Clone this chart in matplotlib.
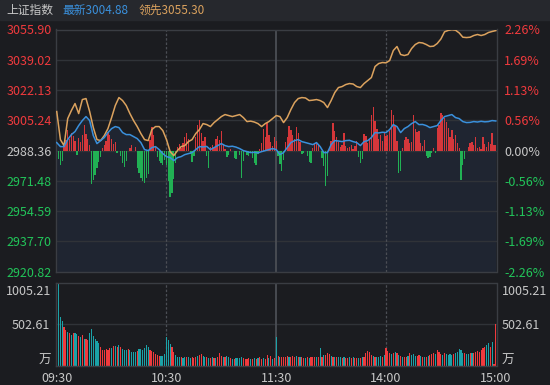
import numpy as np
import matplotlib
matplotlib.use("Agg")
import matplotlib.pyplot as plt
from matplotlib.patches import Rectangle

plt.rcParams['font.family'] = ['Noto Sans CJK SC', 'DejaVu Sans']

# ── data ──
PREV_CLOSE = 2988.36
PRICE_TICKS = [2920.82, 2937.70, 2954.59, 2971.48, 2988.36, 3005.24, 3022.13, 3039.02, 3055.90]
PCT_LABELS = ['-2.26%', '-1.69%', '-1.13%', '-0.56%', '0.00%', '0.56%', '1.13%', '1.69%', '2.26%']
TIME_POS = [0, 60, 120, 180, 240]
TIME_LABELS = ['09:30', '10:30', '11:30', '14:00', '15:00']
VOL_MID, VOL_MAX = 502.61, 1005.21

# index (最新) and leading index (领先), every 2 minutes
INDEX = [2992.83, 2990.59, 2990.59, 2994.50, 2997.29, 2998.97, 3002.32, 3005.11, 3007.34, 3005.11,
         2996.73, 2992.27, 2993.94, 2995.62, 2998.41, 3000.64, 3001.76, 3001.20, 2998.41, 2997.29,
         2997.29, 2996.17, 2995.06, 2992.83, 2988.92, 2988.36, 2990.03, 2990.59, 2988.92, 2986.69,
         2985.01, 2984.45, 2982.78, 2984.45, 2985.01, 2986.13, 2986.69, 2987.24, 2988.92, 2990.59,
         2990.40, 2990.70, 2988.92, 2990.03, 2991.15, 2992.27, 2991.15, 2990.59, 2990.80, 2990.30,
         2989.48, 2988.36, 2987.80, 2987.24, 2987.40, 2987.10, 2987.80, 2988.36, 2988.92, 2989.48,
         2988.92, 2986.13, 2987.24, 2990.03, 2992.83, 2993.94, 2994.50, 2993.38, 2992.83, 2992.27,
         2991.71, 2992.83, 2990.59, 2987.24, 2987.24, 2991.71, 2993.94, 2993.70, 2993.38, 2993.94,
         2994.10, 2993.38, 2992.83, 2991.15, 2993.38, 2993.94, 2995.62, 2998.41, 2998.20, 2998.60,
         2998.41, 3000.08, 3002.87, 3001.76, 2998.41, 3000.64, 3001.76, 3003.43, 3004.55, 3002.87,
         3002.95, 3002.32, 3001.20, 3001.76, 3002.32, 3005.11, 3007.34, 3007.90, 3008.46, 3006.78,
         3006.22, 3004.55, 3003.99, 3004.10, 3004.55, 3004.30, 3004.70, 3004.40, 3004.55, 3005.11,
         3004.88]
LEADING = [3010.13, 2994.50, 2991.15, 3006.22, 3010.69, 3014.60, 3009.01, 3016.83, 3017.39, 3010.13,
           3001.20, 2994.50, 2993.94, 2996.73, 3000.64, 3006.78, 3013.48, 3017.94, 3016.27, 3013.48,
           3009.01, 3005.11, 3001.76, 2997.85, 2994.50, 2993.94, 3000.08, 3001.76, 3001.76, 2999.52,
           2994.50, 2987.80, 2985.57, 2988.36, 2990.59, 2991.15, 2993.38, 2994.50, 2997.85, 3000.08,
           3003.43, 3002.87, 3001.76, 3003.99, 3005.66, 3007.34, 3008.46, 3007.90, 3007.34, 3007.90,
           3008.46, 3006.78, 3004.55, 3004.80, 3004.30, 3003.43, 3001.76, 3003.43, 3004.55, 3006.22,
           3007.90, 3007.34, 3003.99, 3006.78, 3011.25, 3015.15, 3017.39, 3017.94, 3017.70, 3016.27,
           3016.50, 3016.83, 3016.27, 3015.15, 3012.36, 3016.27, 3020.74, 3023.53, 3024.08, 3025.20,
           3025.76, 3025.50, 3024.08, 3023.53, 3025.76, 3027.43, 3029.11, 3035.25, 3036.92, 3037.48,
           3037.30, 3038.60, 3044.18, 3046.41, 3041.95, 3041.39, 3041.95, 3045.30, 3047.53, 3048.65,
           3048.40, 3047.53, 3046.41, 3046.60, 3048.09, 3050.60, 3054.60, 3055.40, 3055.80, 3055.50,
           3054.00, 3051.60, 3051.40, 3051.60, 3052.55, 3053.11, 3052.55, 3053.11, 3054.23, 3054.79,
           3055.30]

# red/green strength bars, one per minute (own scale)
STRENGTH = [0, -8, -14, -10, 6, 11, 21, 12, 18, 15,
            10, -4, 13, 9, 16, 26, 17, 12, 6, -33,
            -29, -24, -17, -11, -6, 3, 6, 10, 19, 16,
            12, 7, 9, -2, 0, -5, -12, -16, -10, 0,
            3, 6, 0, 4, -17, -22, -27, -30, -32, -27,
            -23, 11, 24, 16, 5, -6, -10, -12, -14, -9,
            -14, -30, -46, -42, -28, -12, 4, 7, 3, 8,
            14, 18, 12, -3, -11, -5, 14, 26, 31, 18,
            10, 14, -5, -17, 4, 6, 3, 12, 15, 11,
            20, 7, 2, -6, -4, 2, 0, -7, -8, 0,
            -4, -27, -10, 0, -4, -5, -2, -7, -12, -14,
            -3, 2, 8, 22, 14, 28, 16, 9, 5, 14,
            10, -5, -13, -20, -9, 9, 14, 25, 21, 16,
            12, 24, 18, 9, -3, -2, 0, -5, -11, -12,
            3, 7, 8, 6, 0, -7, -15, -35, -25, 3,
            10, 28, 20, 14, 9, 4, 6, 18, 5, 3,
            4, 6, 2, 5, 10, -6, -12, -8, 17, 15,
            8, 12, 36, 44, 30, 22, 12, 16, 10, 18,
            15, 16, 20, 41, 36, 26, 10, -22, -20, 3,
            11, 14, 12, 8, 9, 36, 22, 19, 20, 8,
            5, 11, -5, -7, -6, -2, 3, -2, 23, 26,
            38, 36, 33, 29, 23, 14, 21, 12, 16, 8,
            3, -29, -14, -8, 0, 4, 8, 9, 6, 14,
            3, 4, 2, 14, 7, 4, 9, 7, 18, 6, 6]

# volume per minute (万) and direction: n = auction, u = up, d = down
VOLUME = [351, 1005, 593, 545, 472, 436, 411, 399, 375, 399,
          399, 387, 363, 351, 375, 327, 327, 315, 399, 448,
          363, 327, 303, 278, 230, 194, 194, 206, 194, 218,
          218, 242, 242, 230, 254, 230, 206, 194, 194, 206,
          194, 169, 169, 169, 182, 206, 206, 194, 218, 254,
          230, 194, 182, 169, 145, 133, 121, 121, 121, 145,
          351, 315, 266, 230, 169, 133, 109, 109, 109, 97,
          109, 109, 109, 97, 109, 97, 109, 121, 133, 145,
          121, 109, 109, 97, 97, 109, 97, 97, 109, 157,
          121, 109, 109, 121, 109, 97, 85, 85, 97, 97,
          97, 109, 97, 85, 85, 97, 85, 85, 97, 85,
          97, 109, 85, 97, 85, 133, 97, 121, 85, 97,
          351, 121, 109, 109, 109, 109, 121, 109, 109, 121,
          109, 121, 109, 109, 109, 97, 97, 109, 97, 109,
          109, 109, 109, 109, 218, 109, 133, 133, 157, 145,
          121, 109, 109, 109, 109, 109, 97, 109, 97, 97,
          109, 97, 109, 97, 97, 97, 97, 109, 109, 157,
          182, 169, 133, 121, 109, 109, 109, 121, 109, 133,
          218, 182, 157, 145, 157, 169, 157, 133, 121, 109,
          109, 109, 121, 157, 133, 145, 121, 121, 133, 121,
          109, 109, 109, 121, 133, 145, 157, 145, 194, 169,
          145, 133, 157, 145, 133, 145, 133, 145, 157, 169,
          206, 194, 157, 157, 145, 145, 157, 157, 157, 169,
          182, 169, 194, 218, 230, 254, 278, 230, 290, 24,
          505]
VOL_DIR = ("nddduududu" "ddududuudd" "dddduuuuuu" "dudududddu"
           "dddduddddd" "duuuuuuddd" "ddduudddud" "dudduuuduu"
           "ddudududuu" "ududdududd" "dduuuududu" "duuduududu"
           "duduuuuduu" "ududuududu" "uudududuuu" "dududduduu"
           "duduududuu" "uuududddud" "uuudududud" "uududdduud"
           "ududuuuduu" "ududdddudd" "dddudduduu" "uuuuuddudu" "u")

# ── styling ──
BG = "#1b1c20"
HEADER = "#26282d"
FILL = "#1f2531"
GRID = "#303338"
SPINE = "#3a3d43"
VLINE = "#4b4e55"
TXT = "#c8c8c8"
RED = "#f03a3d"
GREEN = "#22c55a"
TEAL = "#1ba2a8"
BLUE = "#3a90dc"
ORANGE = "#dba25e"

W, H = 550, 385
fig = plt.figure(figsize=(W / 100, H / 100), dpi=100, facecolor=BG)
fig.patches.append(Rectangle((0, 1 - 20 / H), 1, 20 / H, transform=fig.transFigure,
                             color=HEADER, zorder=0))

fig.text(6 / W, 1 - 10.5 / H, "上证指数", color=TXT, fontsize=8.5, va="center")
fig.text(62 / W, 1 - 10.5 / H, f"最新{INDEX[-1]:.2f}", color=BLUE, fontsize=8.5, va="center")
fig.text(139 / W, 1 - 10.5 / H, f"领先{LEADING[-1]:.2f}", color=ORANGE, fontsize=8.5, va="center")

L, R = 56 / W, 496.5 / W
rect_p = [L, 1 - 271.7 / H, R - L, 242.2 / H]
rect_v = [L, 1 - 366 / H, R - L, 83.3 / H]
XLIM = (-0.4, 240.4)


def style_frame(a):
    a.set_facecolor(BG)
    for s in a.spines.values():
        s.set_color(SPINE)
        s.set_linewidth(1)
    a.set_xlim(*XLIM)
    for pos, ls, c in [(60, (0, (2, 1.5)), VLINE), (120, "-", VLINE), (180, (0, (2, 1.5)), VLINE)]:
        a.axvline(pos, color=c, lw=1.3 if ls == "-" else 0.9, ls=ls, zorder=1)


# price panel
ax = fig.add_axes(rect_p)
style_frame(ax)
ax.set_ylim(PRICE_TICKS[0], PRICE_TICKS[-1])
x_line = np.arange(len(INDEX)) * 2
ax.fill_between(x_line, INDEX, PRICE_TICKS[0], color=FILL, lw=0, zorder=0.5)
for p in PRICE_TICKS[1:-1]:
    ax.axhline(p, color=GRID, lw=1, zorder=0.8)
ax.set_yticks(PRICE_TICKS)
ax.set_yticklabels([f"{p:.2f}" for p in PRICE_TICKS])
ax.set_xticks([])
ax.tick_params(axis="y", length=0, pad=3.2, labelsize=9)
for lbl, p in zip(ax.get_yticklabels(), PRICE_TICKS):
    lbl.set_color(RED if p > PREV_CLOSE else (GREEN if p < PREV_CLOSE else TXT))

axs = ax.twinx()
axs.set_ylim(-121, 121)
axs.set_yticks([])
axs.set_xlim(*XLIM)
for s in axs.spines.values():
    s.set_visible(False)
strength = np.array(STRENGTH)
xs = np.arange(len(strength))
axs.bar(xs, strength, width=0.72, color=[RED if v > 0 else GREEN for v in strength],
        alpha=0.88, lw=0)

axl = ax.twinx()
axl.set_ylim(PRICE_TICKS[0], PRICE_TICKS[-1])
axl.set_xlim(*XLIM)
for s in axl.spines.values():
    s.set_visible(False)
axl.plot(x_line, LEADING, color=ORANGE, lw=1.1)
axl.plot(x_line, INDEX, color=BLUE, lw=1.1)
axl.set_yticks(PRICE_TICKS)
axl.set_yticklabels(PCT_LABELS)
axl.tick_params(axis="y", length=0, pad=5.4, labelsize=9)
for lbl, p in zip(axl.get_yticklabels(), PRICE_TICKS):
    lbl.set_color(RED if p > PREV_CLOSE else (GREEN if p < PREV_CLOSE else TXT))

# volume panel
av = fig.add_axes(rect_v)
style_frame(av)
av.set_ylim(0, VOL_MAX)
av.axhline(VOL_MID, color=GRID, lw=1, zorder=0.8)
dir_color = {"n": "#e6e6e6", "u": RED, "d": TEAL}
xv = np.arange(len(VOLUME))
av.bar(xv, VOLUME, width=0.62, color=[dir_color[c] for c in VOL_DIR[:len(VOLUME)]],
       lw=0, zorder=2)
av.set_yticks([VOL_MID])
av.set_yticklabels([f"{VOL_MID:.2f}"])
av.tick_params(axis="y", length=0, pad=4, labelsize=9, colors=TXT, labelright=True)
av.set_xticks(TIME_POS)
av.set_xticklabels(TIME_LABELS)
av.tick_params(axis="x", length=0, pad=4.5, labelsize=9, colors=TXT)
for xa, ha in [(-4.5 / 440.5, "right"), (1 + 5.2 / 440.5, "left")]:
    av.text(xa, 1 - 9 / 83.3, f"{VOL_MAX:.2f}", transform=av.transAxes, ha=ha,
            va="center", color=TXT, fontsize=9)
    av.text(xa, 6 / 83.3, "万", transform=av.transAxes, ha=ha, va="center",
            color=TXT, fontsize=9)

fig.savefig("out.png", dpi=100, facecolor=BG)
